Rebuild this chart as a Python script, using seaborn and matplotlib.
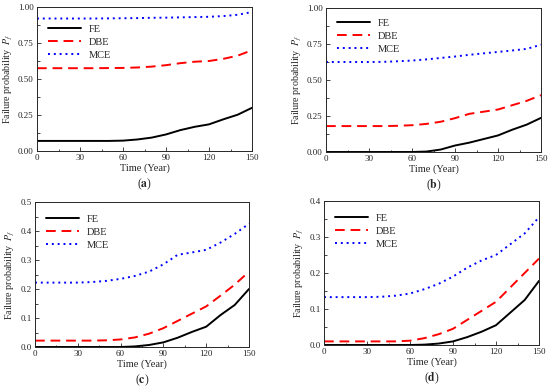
import matplotlib.pyplot as plt
import pandas as pd
import seaborn as sns
from matplotlib.ticker import MultipleLocator

# time axis shared by all panels
years = [0, 10, 20, 30, 40, 50, 60, 70, 80, 90, 100, 110, 120, 130, 140, 150]

# (a)
a_fe = [0.07, 0.07, 0.07, 0.07, 0.07, 0.07, 0.072, 0.08, 0.093, 0.115, 0.145, 0.168, 0.185, 0.22, 0.252, 0.30]
a_dbe = [0.575, 0.575, 0.575, 0.575, 0.575, 0.576, 0.577, 0.58, 0.586, 0.596, 0.61, 0.62, 0.625, 0.64, 0.662, 0.70]
a_mce = [0.92, 0.92, 0.92, 0.92, 0.92, 0.921, 0.922, 0.923, 0.925, 0.926, 0.928, 0.93, 0.932, 0.937, 0.946, 0.965]
# (b)
b_fe = [0.0, 0.0, 0.0, 0.0, 0.0, 0.0, 0.0, 0.003, 0.017, 0.045, 0.065, 0.09, 0.115, 0.155, 0.19, 0.237]
b_dbe = [0.18, 0.18, 0.18, 0.18, 0.18, 0.182, 0.186, 0.195, 0.21, 0.235, 0.265, 0.28, 0.295, 0.325, 0.355, 0.395]
b_mce = [0.625, 0.625, 0.625, 0.625, 0.626, 0.63, 0.635, 0.643, 0.653, 0.663, 0.675, 0.685, 0.695, 0.705, 0.716, 0.745]
# (c)
c_fe = [0.0, 0.0, 0.0, 0.0, 0.0, 0.0, 0.0, 0.002, 0.007, 0.016, 0.032, 0.052, 0.07, 0.11, 0.145, 0.20]
c_dbe = [0.022, 0.022, 0.022, 0.022, 0.022, 0.023, 0.026, 0.033, 0.046, 0.065, 0.09, 0.115, 0.14, 0.177, 0.215, 0.26]
c_mce = [0.222, 0.222, 0.222, 0.222, 0.224, 0.228, 0.235, 0.245, 0.26, 0.285, 0.318, 0.326, 0.335, 0.36, 0.39, 0.425]
# (d)
d_fe = [0.0, 0.0, 0.0, 0.0, 0.0, 0.0, 0.0, 0.001, 0.004, 0.01, 0.022, 0.037, 0.055, 0.09, 0.125, 0.178]
d_dbe = [0.01, 0.01, 0.01, 0.01, 0.01, 0.01, 0.012, 0.019, 0.03, 0.045, 0.07, 0.095, 0.12, 0.16, 0.2, 0.24]
d_mce = [0.133, 0.133, 0.133, 0.133, 0.134, 0.137, 0.143, 0.155, 0.17, 0.19, 0.215, 0.235, 0.25, 0.28, 0.31, 0.355]

series_names = ["FE", "DBE", "MCE"]
panels = [
    ("a", [a_fe, a_dbe, a_mce], 1.0, 0.25),
    ("b", [b_fe, b_dbe, b_mce], 1.0, 0.25),
    ("c", [c_fe, c_dbe, c_mce], 0.5, 0.1),
    ("d", [d_fe, d_dbe, d_mce], 0.4, 0.1),
]
# axes boxes in pixels: left, top, right, bottom
boxes = [(37, 7, 252, 151), (326, 8, 541, 152), (35, 202, 249, 347), (324, 201, 539, 345)]
legend_y = [0.92, 0.97, 0.955, 0.955]

W, H = 550, 391
sns.set_style("ticks")
plt.rcParams["font.family"] = ["Liberation Serif", "DejaVu Serif"]
plt.rcParams["mathtext.fontset"] = "stix"

fig = plt.figure(figsize=(W / 100, H / 100), dpi=100)
fig.patch.set_facecolor("white")

colors = {"FE": "black", "DBE": "#ff0000", "MCE": "#0000ff"}
dashes = {"FE": "", "DBE": (5, 3), "MCE": (1, 2)}

for (letter, values, ymax, ystep), (l, t, r, b), ly in zip(panels, boxes, legend_y):
    ax = fig.add_axes([l / W, 1 - b / H, (r - l) / W, (b - t) / H])
    frame = pd.DataFrame({
        "year": years * 3,
        "pf": values[0] + values[1] + values[2],
        "case": [n for n in series_names for _ in years],
    })
    sns.lineplot(data=frame, x="year", y="pf", hue="case", style="case",
                 palette=colors, dashes=dashes, linewidth=1.4, ax=ax)
    ax.set_xlim(0, 150)
    ax.set_ylim(0, ymax)
    ax.xaxis.set_major_locator(MultipleLocator(30))
    ax.xaxis.set_minor_locator(MultipleLocator(15))
    ax.yaxis.set_major_locator(MultipleLocator(ystep))
    ax.yaxis.set_minor_locator(MultipleLocator(ystep / 2))
    fmt = "%.2f" if ystep == 0.25 else "%.1f"
    ax.yaxis.set_major_formatter(plt.FormatStrFormatter(fmt))
    ax.tick_params(which="both", direction="in", labelsize=6.5, width=0.6, pad=2.5)
    ax.tick_params(which="major", length=3)
    ax.tick_params(which="minor", length=1.8)
    for s in ax.spines.values():
        s.set_linewidth(0.7)
        s.set_visible(True)
    ax.set_xlabel("Time (Year)", fontsize=7.5, labelpad=1)
    ax.set_ylabel("Failure probability  $P_f$", fontsize=7.2, labelpad=2)
    leg = ax.legend(loc="upper left", frameon=False, fontsize=7.5,
                    bbox_to_anchor=(0.02, ly), handlelength=3.2,
                    labelspacing=0.35, borderaxespad=0.2)
    for line in leg.get_lines():
        line.set_linewidth(1.4)
    fig.text(((l + r) / 2) / W, 1 - (b + 33) / H, "(" + r"$\mathbf{" + letter + "}$" + ")",
             ha="center", va="center", fontsize=8.5)

fig.savefig("out.png", dpi=100)
